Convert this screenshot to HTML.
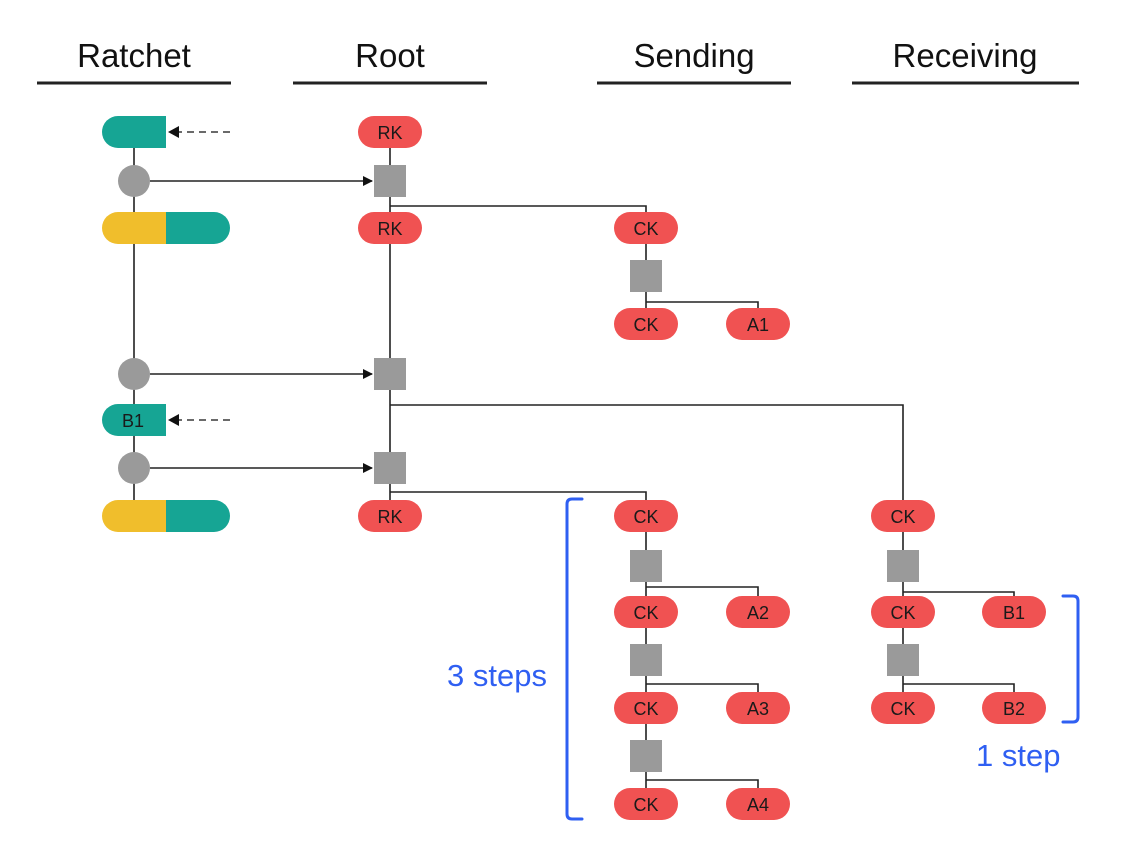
<!DOCTYPE html>
<html><head><meta charset="utf-8"><style>
html,body{margin:0;padding:0;background:#fff;}
svg{display:block;font-family:"Liberation Sans",Arial,sans-serif;}
.p{fill:#f05252;}
.t{font-size:18px;fill:#1a1a1a;text-anchor:middle;}
.l{stroke:#222;stroke-width:1.6;fill:none;}
.sq{fill:#9a9a9a;}
.h{font-size:33px;fill:#111;text-anchor:middle;}
.b{stroke:#2f5ff2;stroke-width:3;fill:none;stroke-linecap:round;}
.bt{font-size:31px;fill:#2f5ff2;}
</style></head><body>
<svg width="1148" height="864" viewBox="0 0 1148 864">
<defs><marker id="ar" markerWidth="10" markerHeight="10" refX="9" refY="5" orient="auto" markerUnits="userSpaceOnUse"><path d="M0,0 L10,5 L0,10 z" fill="#111"/></marker></defs>
<text class="h" x="134" y="67">Ratchet</text>
<text class="h" x="390" y="67">Root</text>
<text class="h" x="694" y="67">Sending</text>
<text class="h" x="965" y="67">Receiving</text>
<g stroke="#222" stroke-width="3">
<line x1="37" y1="83" x2="231" y2="83"/><line x1="293" y1="83" x2="487" y2="83"/>
<line x1="597" y1="83" x2="791" y2="83"/><line x1="852" y1="83" x2="1079" y2="83"/>
</g>
<line class="l" x1="134" y1="132" x2="134" y2="516"/>
<line class="l" x1="390" y1="132" x2="390" y2="516"/>
<line class="l" x1="150" y1="181" x2="372" y2="181" marker-end="url(#ar)"/>
<line class="l" x1="150" y1="374" x2="372" y2="374" marker-end="url(#ar)"/>
<line class="l" x1="150" y1="468" x2="372" y2="468" marker-end="url(#ar)"/>
<line x1="230" y1="132" x2="176" y2="132" stroke="#555" stroke-width="1.8" stroke-dasharray="7,5"/>
<path d="M168,132 L179,126 L179,138 z" fill="#111"/>
<line x1="230" y1="420" x2="176" y2="420" stroke="#555" stroke-width="1.8" stroke-dasharray="7,5"/>
<path d="M168,420 L179,414 L179,426 z" fill="#111"/>
<polyline class="l" points="390,206 646,206 646,228"/>
<polyline class="l" points="390,405 903,405 903,516"/>
<polyline class="l" points="390,492 646,492 646,516"/>
<line class="l" x1="646" y1="228" x2="646" y2="324"/>
<polyline class="l" points="646,302 758,302 758,324"/>
<line class="l" x1="646" y1="516" x2="646" y2="804"/>
<polyline class="l" points="646,587 758,587 758,612"/>
<polyline class="l" points="646,684 758,684 758,708"/>
<polyline class="l" points="646,780 758,780 758,804"/>
<line class="l" x1="903" y1="516" x2="903" y2="708"/>
<polyline class="l" points="903,592 1014,592 1014,612"/>
<polyline class="l" points="903,684 1014,684 1014,708"/>
<path d="M166,116 L118,116 A16,16 0 0 0 118,148 L166,148 z" fill="#16a594"/>
<circle cx="134" cy="181" r="16" fill="#9a9a9a"/>
<path d="M166,212 L118,212 A16,16 0 0 0 118,244 L166,244 z" fill="#f0be2c"/>
<path d="M166,212 L214,212 A16,16 0 0 1 214,244 L166,244 z" fill="#16a594"/>
<circle cx="134" cy="374" r="16" fill="#9a9a9a"/>
<path d="M166,404 L118,404 A16,16 0 0 0 118,436 L166,436 z" fill="#16a594"/>
<text class="t" x="133" y="427">B1</text>
<circle cx="134" cy="468" r="16" fill="#9a9a9a"/>
<path d="M166,500 L118,500 A16,16 0 0 0 118,532 L166,532 z" fill="#f0be2c"/>
<path d="M166,500 L214,500 A16,16 0 0 1 214,532 L166,532 z" fill="#16a594"/>
<g class="sq">
<rect x="374" y="165" width="32" height="32"/><rect x="374" y="358" width="32" height="32"/><rect x="374" y="452" width="32" height="32"/>
<rect x="630" y="260" width="32" height="32"/>
<rect x="630" y="550" width="32" height="32"/><rect x="630" y="644" width="32" height="32"/><rect x="630" y="740" width="32" height="32"/>
<rect x="887" y="550" width="32" height="32"/><rect x="887" y="644" width="32" height="32"/>
</g>
<g>
<rect class="p" x="358" y="116" width="64" height="32" rx="16"/><text class="t" x="390" y="139">RK</text>
<rect class="p" x="358" y="212" width="64" height="32" rx="16"/><text class="t" x="390" y="235">RK</text>
<rect class="p" x="358" y="500" width="64" height="32" rx="16"/><text class="t" x="390" y="523">RK</text>
<rect class="p" x="614" y="212" width="64" height="32" rx="16"/><text class="t" x="646" y="235">CK</text>
<rect class="p" x="614" y="308" width="64" height="32" rx="16"/><text class="t" x="646" y="331">CK</text>
<rect class="p" x="726" y="308" width="64" height="32" rx="16"/><text class="t" x="758" y="331">A1</text>
<rect class="p" x="614" y="500" width="64" height="32" rx="16"/><text class="t" x="646" y="523">CK</text>
<rect class="p" x="614" y="596" width="64" height="32" rx="16"/><text class="t" x="646" y="619">CK</text>
<rect class="p" x="726" y="596" width="64" height="32" rx="16"/><text class="t" x="758" y="619">A2</text>
<rect class="p" x="614" y="692" width="64" height="32" rx="16"/><text class="t" x="646" y="715">CK</text>
<rect class="p" x="726" y="692" width="64" height="32" rx="16"/><text class="t" x="758" y="715">A3</text>
<rect class="p" x="614" y="788" width="64" height="32" rx="16"/><text class="t" x="646" y="811">CK</text>
<rect class="p" x="726" y="788" width="64" height="32" rx="16"/><text class="t" x="758" y="811">A4</text>
<rect class="p" x="871" y="500" width="64" height="32" rx="16"/><text class="t" x="903" y="523">CK</text>
<rect class="p" x="871" y="596" width="64" height="32" rx="16"/><text class="t" x="903" y="619">CK</text>
<rect class="p" x="982" y="596" width="64" height="32" rx="16"/><text class="t" x="1014" y="619">B1</text>
<rect class="p" x="871" y="692" width="64" height="32" rx="16"/><text class="t" x="903" y="715">CK</text>
<rect class="p" x="982" y="692" width="64" height="32" rx="16"/><text class="t" x="1014" y="715">B2</text>
</g>
<path class="b" d="M582,499 L572,499 Q567,499 567,504 L567,814 Q567,819 572,819 L582,819"/>
<text class="bt" x="447" y="686">3 steps</text>
<path class="b" d="M1063,596 L1073,596 Q1078,596 1078,601 L1078,717 Q1078,722 1073,722 L1063,722"/>
<text class="bt" x="976" y="766">1 step</text>
</svg>
</body></html>
